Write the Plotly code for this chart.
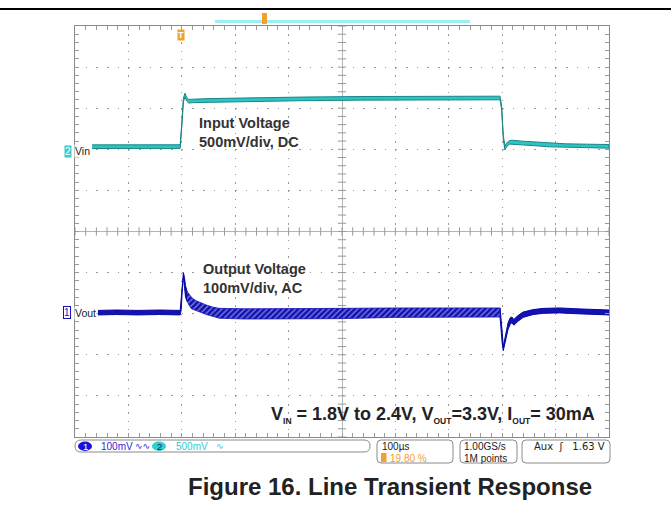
import plotly.graph_objects as go

# ---------------- data ----------------
# time in microseconds, trigger (Vin step) at t = 0, 100 us/div, 19.8 % pre-trigger
T_RANGE = [-198, 802]

# Channel 2: input voltage (V), 500 mV/div, DC, reference marker at 1.8 V
VIN_T = [-166, -100, -50, -1, 2, 5, 8, 11, 15, 25, 40, 80, 130, 223, 336, 450, 598,
         601, 604, 607, 611, 616, 622, 640, 660, 690, 720, 760, 802]
VIN_HI = [1.854, 1.854, 1.855, 1.855, 2.122, 2.422, 2.482, 2.432, 2.407, 2.412, 2.414,
          2.420, 2.427, 2.435, 2.442, 2.446, 2.446, 2.322, 1.972, 1.837, 1.882, 1.907,
          1.910, 1.899, 1.889, 1.874, 1.867, 1.862, 1.858]
VIN_LO = [1.810, 1.810, 1.811, 1.811, 2.078, 2.378, 2.438, 2.388, 2.363, 2.368, 2.370,
          2.376, 2.383, 2.391, 2.398, 2.402, 2.402, 2.278, 1.928, 1.793, 1.838, 1.863,
          1.866, 1.855, 1.845, 1.830, 1.823, 1.818, 1.814]

# Channel 1: output voltage (mV, AC coupled), 100 mV/div
# a) before the step and overshoot
VOUT_A_T = [-155, -120, -80, -40, -1, 1, 3, 5, 7, 9, 12]
VOUT_A_HI = [8, 9, 8, 9, 8, 40, 85, 100, 88, 68, 54]
VOUT_A_LO = [-3, -2, -3, -2, -3, 10, 60, 90, 60, 40, 30]
# b) decaying overshoot and ripple at the higher input voltage
VOUT_B_T = [12, 16, 20, 28, 36, 48, 60, 72, 120, 200, 300, 400, 500, 598]
VOUT_B_HI = [54, 46, 40, 32, 27, 21, 16, 13, 12, 12, 13, 14, 14, 14]
VOUT_B_LO = [30, 20, 12, 8, 4, -2, -7, -11, -13, -13, -12, -9, -8, -8]
# c) undershoot and recovery
VOUT_C_T = [598, 600, 602, 604, 606, 609, 613, 617, 620, 624, 630, 641, 660, 680, 710,
            740, 772, 802]
VOUT_C_HI = [14, -8, -45, -80, -68, -42, -22, -10, -8, -14, -6, 4, 10, 13, 14, 12, 10, 9]
VOUT_C_LO = [-8, -30, -72, -90, -84, -60, -38, -26, -22, -28, -20, -9, -2, 1, 2, 0, -2, -3]

# channel vertical setups (10 x 10 divisions graticule)
VIN_RANGE = [-1.7, 3.3]      # 0.5 V/div, 1.8 V at +2 div
VOUT_RANGE = [-300, 700]     # 100 mV/div, 0 mV at -2 div
DIV_RANGE = [-5, 5]
MINOR_DIV = 0.2

# ---------------- layout helpers ----------------
W, H = 671, 508
ML, MR, MT, MB = 75, 62, 26, 71
PW, PH = W - ML - MR, H - MT - MB


def fx(px):
    return (px - ML) / PW


def fy(py):
    return (H - MB - py) / PH


def band(t, hi, lo, **kw):
    return go.Scatter(x=list(t) + list(t)[::-1], y=list(hi) + list(lo)[::-1],
                      xaxis="x2", fill="toself", mode="lines", hoverinfo="skip",
                      showlegend=False, **kw)


def rounded(x0, y0, x1, y1, r):
    pts = [
        f"M{fx(x0 + r)},{fy(y0)}", f"L{fx(x1 - r)},{fy(y0)}",
        f"Q{fx(x1)},{fy(y0)} {fx(x1)},{fy(y0 + r)}", f"L{fx(x1)},{fy(y1 - r)}",
        f"Q{fx(x1)},{fy(y1)} {fx(x1 - r)},{fy(y1)}", f"L{fx(x0 + r)},{fy(y1)}",
        f"Q{fx(x0)},{fy(y1)} {fx(x0)},{fy(y1 - r)}", f"L{fx(x0)},{fy(y0 + r)}",
        f"Q{fx(x0)},{fy(y0)} {fx(x0 + r)},{fy(y0)}", "Z",
    ]
    return " ".join(pts)


GRID = "#9a9a9a"
BORDER = "#8a8a8a"
BLUE = "#1212b8"
CYAN = "#2cc4c4"
ORANGE = "#f2a12a"

fig = go.Figure()

fig.add_trace(band(VIN_T, VIN_HI, VIN_LO, yaxis="y2",
                   fillcolor=CYAN, line=dict(color="#1b8585", width=1)))
fig.add_trace(band(VOUT_A_T, VOUT_A_HI, VOUT_A_LO, yaxis="y3",
                   fillcolor=BLUE, line=dict(color="#08089a", width=1)))
fig.add_trace(band(VOUT_B_T, VOUT_B_HI, VOUT_B_LO, yaxis="y3",
                   fillcolor=BLUE,
                   fillpattern=dict(shape="/", fgcolor="white", bgcolor="#1010b4",
                                    size=4, solidity=0.3),
                   line=dict(color="#1414bc", width=0.8)))
fig.add_trace(band(VOUT_C_T, VOUT_C_HI, VOUT_C_LO, yaxis="y3",
                   fillcolor=BLUE, line=dict(color="#08089a", width=1)))

# centre-crosshair minor ticks (graticule decoration, in divisions)
n_minor = int(round((DIV_RANGE[1] - DIV_RANGE[0]) / MINOR_DIV))
cross_pos = [DIV_RANGE[0] + i * MINOR_DIV for i in range(n_minor + 1)]
fig.add_trace(go.Scatter(x=cross_pos, y=[0] * len(cross_pos), mode="markers",
                         marker=dict(symbol="line-ns", size=6,
                                     line=dict(color=GRID, width=1)),
                         hoverinfo="skip", showlegend=False))
fig.add_trace(go.Scatter(x=[0] * len(cross_pos), y=cross_pos, mode="markers",
                         marker=dict(symbol="line-ew", size=6,
                                     line=dict(color=GRID, width=1)),
                         hoverinfo="skip", showlegend=False))

common = dict(showticklabels=False, fixedrange=True)


def div_axis(dash):
    return dict(range=DIV_RANGE, tick0=0, dtick=1, showgrid=True,
                gridcolor=GRID, griddash=dash, gridwidth=1,
                zeroline=True, zerolinecolor="#b4b4b4", zerolinewidth=1,
                showline=True, linecolor=BORDER, linewidth=1, mirror="allticks",
                ticks="inside", ticklen=4, tickcolor=GRID,
                minor=dict(tick0=0, dtick=MINOR_DIV, ticks="inside", ticklen=4,
                           tickcolor=GRID, showgrid=False), **common)


shapes = [
    # page rule at top
    dict(type="line", xref="paper", yref="paper", x0=fx(0), x1=fx(W), y0=fy(9),
         y1=fy(9), line=dict(color="black", width=2)),
    # record-view bar
    dict(type="line", xref="paper", yref="paper", x0=fx(215), x1=fx(470),
         y0=fy(21.5), y1=fy(21.5), line=dict(color="#9af0f0", width=3)),
    dict(type="rect", xref="paper", yref="paper", x0=fx(262), x1=fx(267),
         y0=fy(13), y1=fy(24), fillcolor=ORANGE, line=dict(width=0)),
    # status boxes
    dict(type="path", xref="paper", yref="paper", path=rounded(75, 440, 370, 452, 6),
         line=dict(color="#8a8a8a", width=1), fillcolor="white"),
    dict(type="path", xref="paper", yref="paper", path=rounded(377, 440, 453, 463, 4),
         line=dict(color="#8a8a8a", width=1), fillcolor="white"),
    dict(type="path", xref="paper", yref="paper", path=rounded(460, 440, 517, 463, 4),
         line=dict(color="#8a8a8a", width=1), fillcolor="white"),
    dict(type="path", xref="paper", yref="paper", path=rounded(522, 440, 610, 463, 4),
         line=dict(color="#8a8a8a", width=1), fillcolor="white"),
    dict(type="circle", xref="paper", yref="paper", x0=fx(78), x1=fx(92),
         y0=fy(441.5), y1=fy(451), fillcolor="#1414d8", line=dict(width=0)),
    dict(type="circle", xref="paper", yref="paper", x0=fx(152), x1=fx(166),
         y0=fy(441.5), y1=fy(451), fillcolor="#2fd0d0", line=dict(width=0)),
    dict(type="rect", xref="paper", yref="paper", x0=fx(381), x1=fx(386.5),
         y0=fy(453), y1=fy(462), fillcolor=ORANGE, line=dict(width=0)),
]

SF = "Liberation Sans, Arial, sans-serif"


def ann(text, px, py, size, color="#222", xanchor="left", yanchor="middle",
        family=SF, align="left", **kw):
    return dict(text=text, x=fx(px), y=fy(py), xref="paper", yref="paper",
                xanchor=xanchor, yanchor=yanchor, showarrow=False, align=align,
                font=dict(family=family, size=size, color=color), **kw)


def sub(s):
    return f"<sub><span style='font-size:8.5px'>{s}</span></sub>"


annotations = [
    ann("<b>Input Voltage<br>500mV/div, DC</b>", 197, 132.5, 14.5, color="#333"),
    ann("<b>Output Voltage<br>100mV/div, AC</b>", 201, 278.5, 14.5, color="#333"),
    ann(f"<b>V{sub('IN')} = 1.8V to 2.4V, V{sub('OUT')}=3.3V, "
        f"I{sub('OUT')}= 30mA</b>", 597, 415, 18, color="#222", xanchor="right"),
    ann("<b>Figure 16. Line Transient Response</b>", 390, 486, 24, color="#222",
        xanchor="center"),
    # channel markers at the left edge
    ann("2", 67.5, 151, 10, color="white", xanchor="center", bgcolor="#3ccccc",
        borderpad=0),
    ann("Vin", 74, 151, 10.5, color="#222", bgcolor="white", borderpad=0),
    ann("1", 67, 313, 10, color=BLUE, xanchor="center", bgcolor="white",
        bordercolor=BLUE, borderwidth=1, borderpad=0),
    ann("Vout", 74, 313, 10.5, color="#222", bgcolor="white", borderpad=0),
    # trigger marker
    ann("<b>T</b>", 181, 34.5, 9, color="white", xanchor="center", bgcolor=ORANGE,
        borderpad=0),
    # status bar text
    ann("1", 85, 446.5, 9.5, color="white", xanchor="center"),
    ann("100mV", 99, 446.5, 10, color="#2a2ad6"),
    ann("∿∿", 133, 446.5, 9, color="#2a2ad6", family="DejaVu Sans"),
    ann("2", 159, 446.5, 9.5, color="#10206a", xanchor="center"),
    ann("500mV", 174, 446.5, 10, color="#36c8d8"),
    ann("∿", 214, 446.5, 9, color="#36c8d8", family="DejaVu Sans"),
    ann("100µs", 380, 446.5, 10, color="#222"),
    ann("19.80 %", 388, 458, 10, color=ORANGE),
    ann("1.00GS/s", 462, 446.5, 10, color="#222"),
    ann("1M points", 462, 458, 10, color="#222"),
    ann("Aux  ʃ   1.63 V", 607, 446.5, 10, color="#222", xanchor="right",
        family="DejaVu Sans"),
]

fig.update_layout(
    width=W, height=H, margin=dict(l=ML, r=MR, t=MT, b=MB, pad=0),
    paper_bgcolor="white", plot_bgcolor="white", showlegend=False,
    font=dict(family=SF),
    xaxis=div_axis("1.5px,6.72px"), yaxis=div_axis("1.5px,9.18px"),
    xaxis2=dict(range=T_RANGE, overlaying="x", visible=False, fixedrange=True),
    yaxis2=dict(range=VIN_RANGE, overlaying="y", visible=False, fixedrange=True),
    yaxis3=dict(range=VOUT_RANGE, overlaying="y", visible=False, fixedrange=True),
    shapes=shapes, annotations=annotations,
)

fig.write_html("out.html", config={"displayModeBar": False},
               post_script="document.body.style.margin='0px';")
